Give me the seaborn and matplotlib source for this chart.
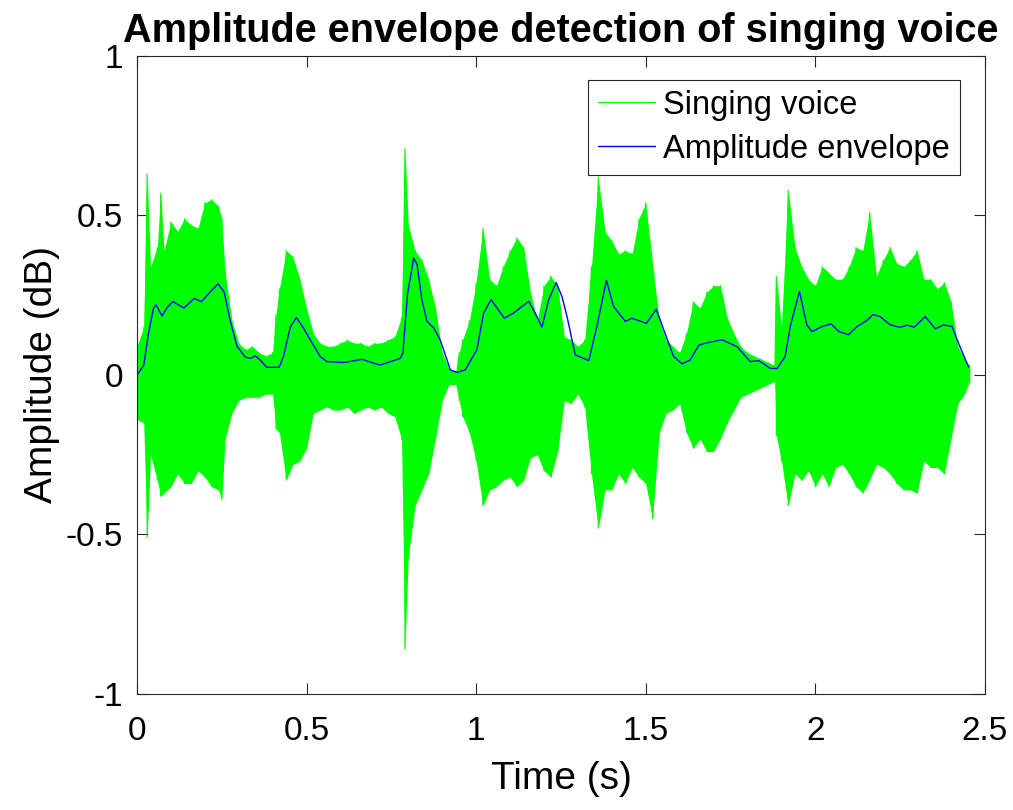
import numpy as np
import pandas as pd
import matplotlib
matplotlib.use("Agg")
import matplotlib.pyplot as plt
import seaborn as sns
from matplotlib.ticker import FuncFormatter

# peak extents of the singing voice waveform
sig_t = [0.00, 0.02, 0.03, 0.04, 0.06, 0.07, 0.08, 0.10, 0.12, 0.14, 0.16, 0.18, 0.20, 0.22, 0.24, 0.25,
         0.26, 0.28, 0.30, 0.32, 0.34, 0.36, 0.38, 0.40, 0.41, 0.42, 0.44, 0.46, 0.48, 0.50, 0.52, 0.54,
         0.56, 0.58, 0.60, 0.62, 0.64, 0.66, 0.68, 0.70, 0.72, 0.74, 0.76, 0.78, 0.79, 0.80, 0.82, 0.84,
         0.86, 0.88, 0.90, 0.92, 0.94, 0.95, 0.96, 0.98, 1.00, 1.02, 1.04, 1.06, 1.08, 1.10, 1.12, 1.14,
         1.16, 1.18, 1.20, 1.22, 1.24, 1.26, 1.28, 1.30, 1.32, 1.34, 1.36, 1.38, 1.40, 1.42, 1.44, 1.46,
         1.48, 1.50, 1.52, 1.54, 1.56, 1.58, 1.60, 1.62, 1.64, 1.66, 1.68, 1.70, 1.72, 1.74, 1.76, 1.78,
         1.80, 1.82, 1.84, 1.86, 1.88, 1.885, 1.90, 1.92, 1.94, 1.96, 1.98, 2.00, 2.02, 2.04, 2.06, 2.08,
         2.10, 2.12, 2.14, 2.16, 2.18, 2.20, 2.22, 2.24, 2.26, 2.28, 2.30, 2.32, 2.34, 2.36, 2.38, 2.40,
         2.42, 2.44, 2.455]
sig_upper = [0.09, 0.15, 0.63, 0.34, 0.40, 0.57, 0.39, 0.48, 0.45, 0.49, 0.47, 0.46, 0.54, 0.55, 0.53, 0.49,
             0.32, 0.17, 0.10, 0.08, 0.09, 0.07, 0.06, 0.07, 0.19, 0.27, 0.39, 0.37, 0.30, 0.21, 0.13, 0.10,
             0.09, 0.09, 0.10, 0.11, 0.10, 0.10, 0.09, 0.10, 0.10, 0.11, 0.12, 0.18, 0.71, 0.47, 0.39, 0.36,
             0.30, 0.21, 0.07, 0.02, 0.01, 0.07, 0.11, 0.17, 0.29, 0.46, 0.30, 0.28, 0.34, 0.39, 0.43, 0.40,
             0.26, 0.17, 0.28, 0.31, 0.28, 0.12, 0.11, 0.09, 0.11, 0.34, 0.62, 0.45, 0.42, 0.38, 0.39, 0.38,
             0.49, 0.54, 0.35, 0.17, 0.11, 0.09, 0.07, 0.13, 0.23, 0.21, 0.26, 0.28, 0.28, 0.18, 0.13, 0.09,
             0.07, 0.06, 0.05, 0.04, 0.03, 0.31, 0.15, 0.58, 0.40, 0.34, 0.30, 0.28, 0.34, 0.32, 0.30, 0.30,
             0.34, 0.40, 0.39, 0.51, 0.31, 0.36, 0.40, 0.35, 0.34, 0.36, 0.39, 0.30, 0.30, 0.27, 0.29, 0.23,
             0.09, 0.05, 0.03]
sig_lower = [-0.14, -0.15, -0.51, -0.25, -0.33, -0.38, -0.37, -0.35, -0.31, -0.34, -0.34, -0.30, -0.32, -0.35, -0.36, -0.39,
             -0.20, -0.12, -0.08, -0.07, -0.07, -0.07, -0.06, -0.06, -0.17, -0.18, -0.33, -0.28, -0.27, -0.23, -0.12, -0.11,
             -0.10, -0.11, -0.11, -0.10, -0.12, -0.11, -0.10, -0.11, -0.10, -0.12, -0.13, -0.20, -0.86, -0.57, -0.41, -0.36,
             -0.31, -0.20, -0.08, -0.03, -0.03, -0.08, -0.13, -0.18, -0.27, -0.41, -0.36, -0.35, -0.33, -0.32, -0.35, -0.33,
             -0.26, -0.25, -0.30, -0.32, -0.24, -0.08, -0.09, -0.06, -0.10, -0.31, -0.48, -0.36, -0.36, -0.31, -0.34, -0.29,
             -0.32, -0.34, -0.45, -0.18, -0.12, -0.11, -0.09, -0.18, -0.23, -0.20, -0.24, -0.24, -0.20, -0.15, -0.11, -0.07,
             -0.06, -0.05, -0.04, -0.03, -0.02, -0.19, -0.27, -0.41, -0.31, -0.33, -0.30, -0.35, -0.31, -0.35, -0.29, -0.28,
             -0.31, -0.35, -0.37, -0.33, -0.28, -0.29, -0.31, -0.34, -0.36, -0.36, -0.37, -0.27, -0.29, -0.29, -0.31, -0.20,
             -0.09, -0.06, -0.02]

# amplitude envelope
env_t = [0.0, 0.02, 0.034, 0.049, 0.056, 0.074, 0.088, 0.106, 0.138, 0.169, 0.19, 0.216, 0.239, 0.257, 0.275,
         0.295, 0.319, 0.334, 0.349, 0.363, 0.383, 0.419, 0.432, 0.452, 0.47, 0.491, 0.511, 0.54, 0.56, 0.609,
         0.663, 0.717, 0.776, 0.784, 0.798, 0.816, 0.826, 0.840, 0.855, 0.875, 0.894, 0.924, 0.943, 0.968, 1.002,
         1.022, 1.044, 1.083, 1.110, 1.155, 1.174, 1.194, 1.214, 1.236, 1.253, 1.268, 1.292, 1.317, 1.332, 1.356,
         1.384, 1.405, 1.44, 1.459, 1.502, 1.531, 1.553, 1.582, 1.607, 1.631, 1.657, 1.69, 1.725, 1.769, 1.808,
         1.833, 1.867, 1.887, 1.911, 1.926, 1.953, 1.975, 1.99, 2.02, 2.046, 2.07, 2.098, 2.123, 2.152, 2.17,
         2.191, 2.221, 2.25, 2.27, 2.292, 2.324, 2.354, 2.378, 2.403, 2.422, 2.452]
env_val = [0.0, 0.03, 0.13, 0.21, 0.22, 0.185, 0.21, 0.23, 0.21, 0.24, 0.23, 0.26, 0.286, 0.26, 0.17,
           0.09, 0.056, 0.052, 0.06, 0.047, 0.024, 0.024, 0.058, 0.15, 0.18, 0.147, 0.11, 0.058, 0.042, 0.039,
           0.049, 0.031, 0.052, 0.068, 0.257, 0.367, 0.346, 0.236, 0.168, 0.147, 0.11, 0.016, 0.008, 0.016, 0.079,
           0.194, 0.236, 0.178, 0.194, 0.231, 0.194, 0.15, 0.236, 0.29, 0.246, 0.183, 0.063, 0.052, 0.045, 0.152,
           0.297, 0.215, 0.168, 0.178, 0.162, 0.206, 0.142, 0.058, 0.035, 0.047, 0.094, 0.103, 0.11, 0.089, 0.042,
           0.045, 0.021, 0.02, 0.058, 0.152, 0.262, 0.157, 0.136, 0.152, 0.16, 0.136, 0.126, 0.152, 0.171, 0.189,
           0.183, 0.157, 0.149, 0.156, 0.15, 0.183, 0.145, 0.157, 0.152, 0.10, 0.024]

x_ticks = [0, 0.5, 1, 1.5, 2, 2.5]
y_ticks = [-1, -0.5, 0, 0.5, 1]

sns.set_style("white")
plt.rcParams['font.family'] = ['Liberation Sans', 'DejaVu Sans']
plt.rcParams['axes.unicode_minus'] = False
plt.rcParams['text.color'] = 'black'
plt.rcParams['axes.labelcolor'] = 'black'

fig = plt.figure(figsize=(10.13, 8.1), dpi=100)
ax = fig.add_axes([0.1352, 0.1432, 0.8371, 0.7877])

# waveform: alternate between the upper and lower peaks of each bin
wave = pd.DataFrame({
    "t": np.repeat(sig_t, 2),
    "amp": np.column_stack([sig_upper, sig_lower]).ravel(),
})
ax.fill_between(sig_t, sig_lower, sig_upper, color='#00ff00', lw=0)
sns.lineplot(data=wave, x="t", y="amp", sort=False, estimator=None, color='#00ff00',
             lw=0.8, label='Singing voice', ax=ax)

env = pd.DataFrame({"t": env_t, "amp": env_val})
sns.lineplot(data=env, x="t", y="amp", sort=False, estimator=None, color='#0000ff',
             lw=1.0, label='Amplitude envelope', ax=ax)

ax.set_xlim(0, 2.5)
ax.set_ylim(-1, 1)
ax.set_xticks(x_ticks)
ax.set_yticks(y_ticks)
fmt = FuncFormatter(lambda v, p: '%g' % v)
ax.xaxis.set_major_formatter(fmt)
ax.yaxis.set_major_formatter(fmt)
ax.tick_params(direction='in', length=8, width=0.8, top=True, right=True,
               bottom=True, left=True, labelsize=24, colors='#262626',
               labelcolor='black')
ax.tick_params(axis='x', pad=16)
ax.tick_params(axis='y', pad=10)
for s in ax.spines.values():
    s.set_visible(True)
    s.set_color('#262626')
    s.set_linewidth(0.8)

ax.set_xlabel('Time (s)', fontsize=28, labelpad=10)
ax.set_ylabel('Amplitude (dB)', fontsize=28, labelpad=4)
ax.set_title('Amplitude envelope detection of singing voice', fontsize=28.5,
             fontweight='bold', pad=10, color='black')

leg = ax.legend(loc='upper right', bbox_to_anchor=(0.9705, 0.9624), fontsize=23.5,
                frameon=True, fancybox=False, edgecolor='#262626', framealpha=1,
                handlelength=1.75, handletextpad=0.25, borderpad=0.3, labelspacing=0.4,
                borderaxespad=0)
leg.get_frame().set_linewidth(0.8)
for txt in leg.get_texts():
    txt.set_color('black')

fig.savefig('out.png', dpi=100)
